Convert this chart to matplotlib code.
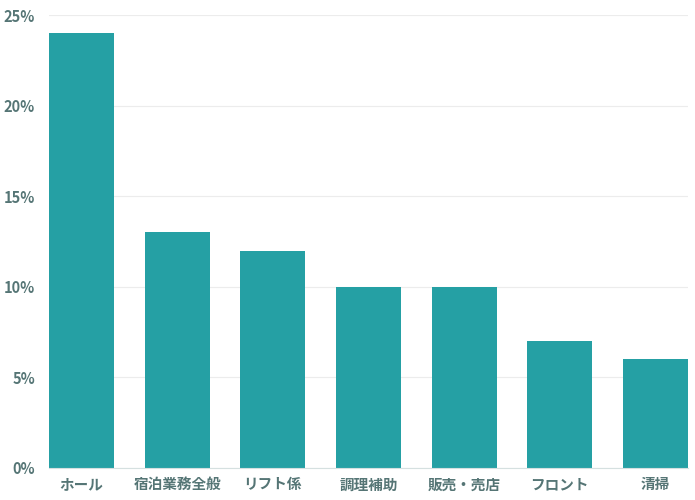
import matplotlib
matplotlib.use("Agg")
import matplotlib.pyplot as plt
from matplotlib.ticker import FuncFormatter

# --- data ---
categories = ["ホール", "宿泊業務全般", "リフト係", "調理補助", "販売・売店", "フロント", "清掃"]
shares = [24, 13, 12, 10, 10, 7, 6]
y_ticks = [0, 5, 10, 15, 20, 25]

BAR_COLOR = "#25a0a4"
TEXT_COLOR = "#557575"

plt.rcParams['font.family'] = ['Noto Sans CJK JP', 'DejaVu Sans']

fig = plt.figure(figsize=(6.95, 5.0), dpi=100)
ax = fig.add_axes([49 / 695, 32 / 500, 639 / 695, 453 / 500])

x = list(range(len(categories)))
bar_w = 0.68
ax.bar(x, shares, width=bar_w, color=BAR_COLOR, zorder=2)

ax.set_xlim(-bar_w / 2, len(categories) - 1 + bar_w / 2)
ax.set_ylim(0, 25)
ax.set_yticks(y_ticks)
ax.yaxis.set_major_formatter(FuncFormatter(lambda v, p: f"{int(v)}%"))
ax.set_xticks(x)
ax.set_xticklabels(categories)

ax.grid(axis='y', color='#ececec', linewidth=0.8, zorder=0)
for s in ["top", "right", "left"]:
    ax.spines[s].set_visible(False)
ax.spines["bottom"].set_color("#d5e0e0")
ax.spines["bottom"].set_linewidth(0.8)

ax.tick_params(axis='both', length=0, labelsize=10.5, labelcolor=TEXT_COLOR)
ax.tick_params(axis='y', pad=10)
ax.tick_params(axis='x', pad=6)
for lbl in ax.get_xticklabels() + ax.get_yticklabels():
    lbl.set_fontweight('bold')

fig.savefig("out.png", dpi=100)
